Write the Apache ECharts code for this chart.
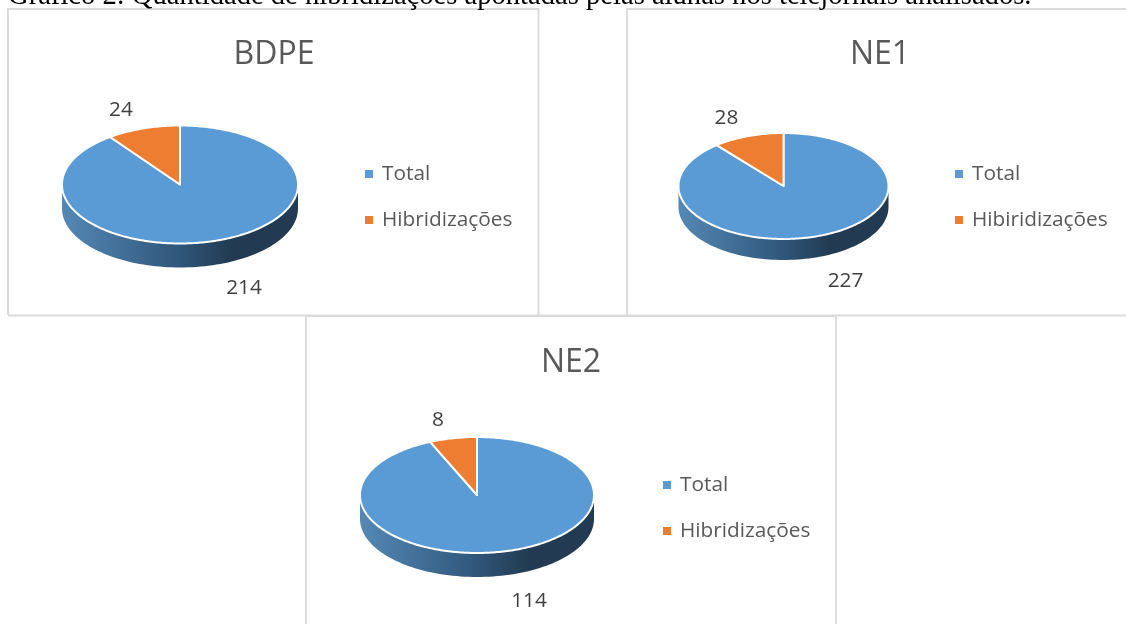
<!DOCTYPE html>
<html>
<head>
<meta charset="utf-8">
<title>Gráfico 2</title>
<script src="https://cdn.jsdelivr.net/npm/echarts@6/dist/echarts.min.js"></script>
<style>
    html, body { margin: 0; padding: 0; background: #fff; }
    #main { width: 1126px; height: 624px; }
</style>
</head>
<body>
<div id="main"></div>
<script>
    // dados
    var caption = 'Gráfico 2: Quantidade de hibridizações apontadas pelas alunas nos telejornais analisados.';
    var titles = ['BDPE', 'NE1', 'NE2'];
    var totalNames = ['Total', 'Total', 'Total'];
    var hibridNames = ['Hibridizações', 'Hibiridizações', 'Hibridizações'];
    var totalValues = [214, 227, 114];
    var hibridValues = [24, 28, 8];

    // posição de cada pizza, título, legenda e rótulos (em px)
    var layouts = [
        { cx: 180, cy: 184.5, rx: 118, ry: 59, depth: 24, titleX: 274, legendX: 365, legendY: 161, labelTotal: [64, 104], labelHibrid: [-59, -74] },
        { cx: 783.5, cy: 186, rx: 105, ry: 53, depth: 21, titleX: 880, legendX: 955, legendY: 161, labelTotal: [62, 95], labelHibrid: [-57, -68] },
        { cx: 477, cy: 495, rx: 117, ry: 58, depth: 24, titleX: 571, legendX: 663, legendY: 472, labelTotal: [52, 106], labelHibrid: [-39, -75] }
    ];
    var titleTops = [39, 39, 347];

    var blue = '#5b9bd5';
    var orange = '#ed7d31';
    var font = '"Open Sans", "Noto Sans", sans-serif';

    var myChart = echarts.init(document.getElementById('main'));

    // ponto da elipse, ângulo em graus a partir do topo no sentido horário
    function ellipsePoint(l, deg) {
        var a = deg * Math.PI / 180;
        return [l.cx + Math.sin(a) * l.rx, l.cy - Math.cos(a) * l.ry];
    }

    function wallItem(l) {
        return function () {
            var pts = [];
            for (var d = 90; d <= 270; d += 2) {
                pts.push(ellipsePoint(l, d));
            }
            for (var e = 270; e >= 90; e -= 2) {
                var p = ellipsePoint(l, e);
                pts.push([p[0], p[1] + l.depth]);
            }
            return {
                type: 'polygon',
                shape: { points: pts },
                style: {
                    fill: new echarts.graphic.LinearGradient(0, 0, 1, 0, [
                        { offset: 0, color: '#5488b5' },
                        { offset: 0.5, color: '#30567a' },
                        { offset: 0.72, color: '#223b52' },
                        { offset: 1, color: '#223b52' }
                    ])
                }
            };
        };
    }

    // uma fatia: start/end saem dos valores, o total das duas fatias é 360 graus
    function sliceItem(l, color, labelOffset, first) {
        return function (params, api) {
            var value = api.value(0);
            var other = api.value(1);
            var sweep = value / (value + other) * 360;
            var start = first ? 0 : 360 - sweep;
            var end = first ? sweep : 360;
            var pts = [[l.cx, l.cy]];
            for (var d = start; d < end; d += 1) {
                pts.push(ellipsePoint(l, d));
            }
            pts.push(ellipsePoint(l, end));
            return {
                type: 'group',
                children: [
                    {
                        type: 'polygon',
                        shape: { points: pts },
                        style: { fill: color, stroke: '#fff', lineWidth: 2, lineJoin: 'round' }
                    },
                    {
                        type: 'text',
                        x: l.cx + labelOffset[0],
                        y: l.cy + labelOffset[1],
                        style: {
                            text: String(value),
                            fill: '#404040',
                            font: '20.8px ' + font,
                            align: 'center',
                            verticalAlign: 'middle'
                        }
                    }
                ]
            };
        };
    }

    var titleList = [{
        text: caption,
        left: 8,
        top: -18,
        padding: 0,
        textStyle: { fontFamily: '"Liberation Serif"', fontSize: 28.6, fontWeight: 'normal', color: '#000' }
    }];
    var legendList = [];
    var seriesList = [];

    for (var i = 0; i < titles.length; i++) {
        var l = layouts[i];
        titleList.push({
            text: titles[i],
            left: l.titleX,
            top: titleTops[i],
            padding: 0,
            textAlign: 'center',
            textStyle: { fontFamily: font, fontSize: 32, fontWeight: 'normal', color: '#595959' }
        });
        legendList.push({
            orient: 'vertical',
            left: l.legendX,
            top: l.legendY,
            padding: 0,
            icon: 'rect',
            itemWidth: 8,
            itemHeight: 8,
            itemGap: 20,
            selectedMode: false,
            textStyle: { fontFamily: font, fontSize: 20.8, color: '#595959', padding: [0, 0, 0, 4], lineHeight: 26 },
            data: [
                { name: totalNames[i], itemStyle: { color: blue } },
                { name: hibridNames[i], itemStyle: { color: orange } }
            ]
        });
        seriesList.push({
            type: 'custom',
            coordinateSystem: 'none',
            silent: true,
            renderItem: wallItem(l),
            data: [[totalValues[i]]]
        });
        seriesList.push({
            name: totalNames[i],
            type: 'custom',
            coordinateSystem: 'none',
            itemStyle: { color: blue },
            renderItem: sliceItem(l, blue, l.labelTotal, true),
            data: [[totalValues[i], hibridValues[i]]]
        });
        seriesList.push({
            name: hibridNames[i],
            type: 'custom',
            coordinateSystem: 'none',
            itemStyle: { color: orange },
            renderItem: sliceItem(l, orange, l.labelHibrid, false),
            data: [[hibridValues[i], totalValues[i]]]
        });
    }

    // molduras dos três gráficos
    var frameStyle = { stroke: '#dcdcdc', lineWidth: 2, fill: 'none' };
    var frames = [
        { type: 'polyline', shape: { points: [[8, 315], [8, 9], [538.5, 9], [538.5, 315]] }, style: frameStyle },
        { type: 'polyline', shape: { points: [[1126, 9], [627, 9], [627, 315]] }, style: frameStyle },
        { type: 'line', shape: { x1: 8, y1: 315.5, x2: 1126, y2: 315.5 }, style: frameStyle },
        { type: 'polyline', shape: { points: [[306, 624], [306, 316], [836, 316], [836, 624]] }, style: frameStyle }
    ];

    var option = {
        animation: false,
        backgroundColor: '#fff',
        title: titleList,
        legend: legendList,
        graphic: { elements: frames },
        series: seriesList
    };
    myChart.setOption(option);
</script>
</body>
</html>
